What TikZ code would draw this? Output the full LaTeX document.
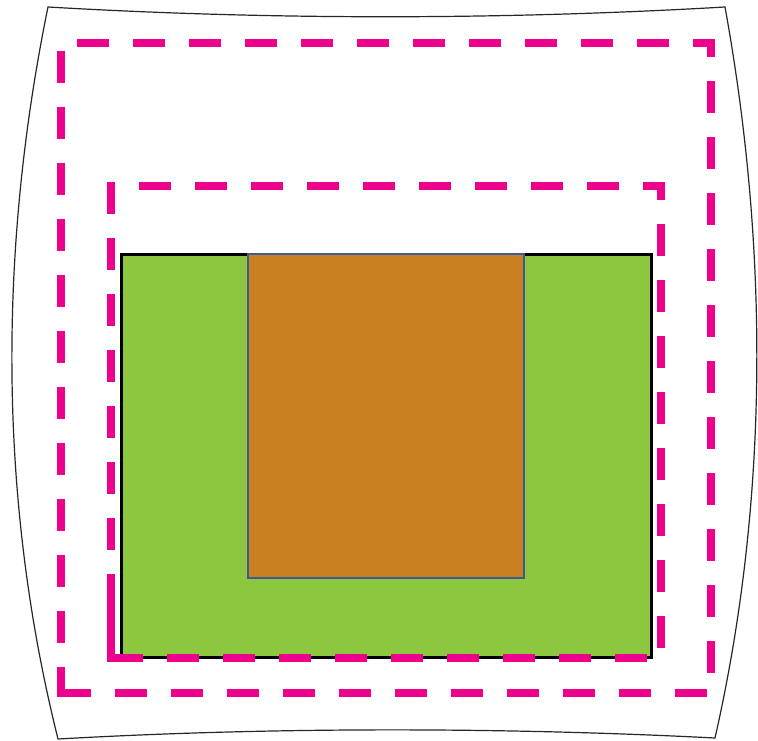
\documentclass[tikz,border=0pt]{standalone}
\definecolor{mag}{RGB}{236,0,140}
\definecolor{grn}{RGB}{141,198,63}
\definecolor{org}{RGB}{200,128,32}
\definecolor{blu}{RGB}{60,90,150}
\begin{document}
\begin{tikzpicture}[x=1pt,y=-1pt,
  magline/.style={draw=mag,line width=7.5pt,line join=miter},
  magdash/.style={magline,dash pattern=on 32pt off 24pt},
  frame/.style={draw=black!85,line width=1.2pt}]
\useasboundingbox (0,0) rectangle (758,741);
% outer curved frame
\path[frame] (48,7) .. controls (270,20) and (500,20) .. (725,7)
  .. controls (769,250) and (769,500) .. (715,738)
  .. controls (500,727) and (270,727) .. (58,739)
  .. controls (-1.7,500) and (-1.7,250) .. cycle;
% green rectangle
\path[fill=grn,draw=black,line width=3pt] (121,254) rectangle (651,657);
% orange rectangle
\path[fill=org,draw=blu,line width=1.8pt] (248,254) rectangle (524,578);
% inner dashed rectangle
\path[magdash,dash phase=28pt] (111,186) -- (661,186) -- (661,658) -- (111,658);
\path[magdash] (115,186) -- (111,186) -- (111,662);
\path[magline] (111,574) -- (111,658) -- (115,658);
% outer dashed rectangle
\path[magdash,dash phase=40pt] (61,43) -- (711,43) -- (711,693) -- (61,693);
\path[magdash,dash phase=48pt] (61,43) -- (61,696.75);
\end{tikzpicture}
\end{document}
